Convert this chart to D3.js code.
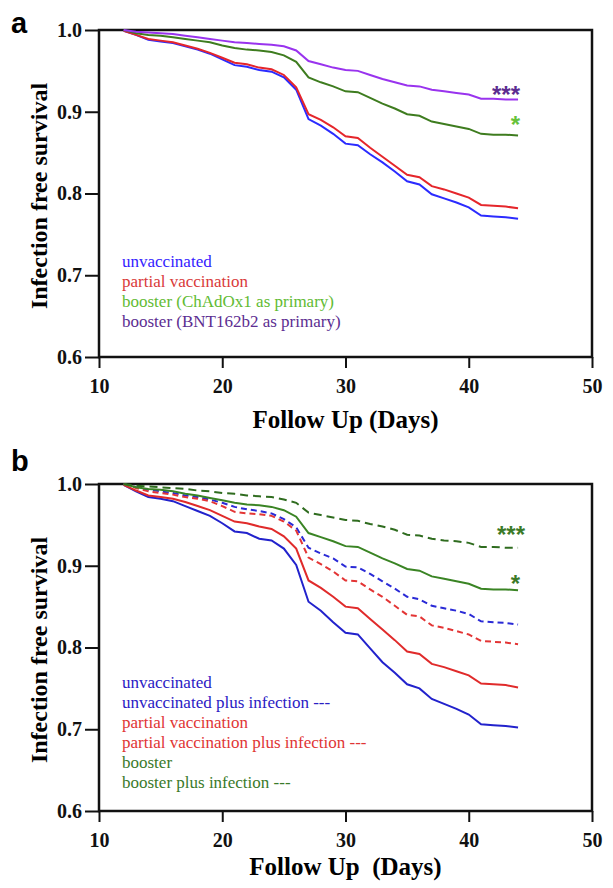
<!DOCTYPE html>
<html>
<head>
<meta charset="utf-8">
<script src="https://cdn.jsdelivr.net/npm/d3@7"></script>
<style>
body { margin: 0; background: #fff; }
svg { display: block; }
</style>
</head>
<body>
<div id="chart"></div>
<script>
// follow up day of every point
const days = [12, 13, 14, 15, 16, 17, 18, 19, 20, 21, 22, 23, 24, 25, 26, 27, 28,
              29, 30, 31, 32, 33, 34, 35, 36, 37, 38, 39, 40, 41, 42, 43, 44];
const xTicks = [10, 20, 30, 40, 50];
const yTicks = [0.6, 0.7, 0.8, 0.9, 1.0];

// panel a
const namesA = ["unvaccinated", "partial vaccination",
                "booster (ChAdOx1 as primary)", "booster (BNT162b2 as primary)"];
const unvaccA = [0.999, 0.994, 0.988, 0.986, 0.984, 0.980, 0.976, 0.971, 0.964, 0.957, 0.955,
                 0.951, 0.949, 0.942, 0.927, 0.891, 0.883, 0.873, 0.861, 0.859, 0.848, 0.838,
                 0.827, 0.815, 0.811, 0.799, 0.794, 0.789, 0.783, 0.773, 0.772, 0.771, 0.769];
const partialA = [0.999, 0.994, 0.989, 0.987, 0.985, 0.981, 0.977, 0.972, 0.966, 0.960, 0.958,
                  0.954, 0.952, 0.945, 0.930, 0.897, 0.890, 0.881, 0.870, 0.868, 0.856, 0.845,
                  0.834, 0.823, 0.820, 0.809, 0.805, 0.800, 0.795, 0.786, 0.785, 0.784, 0.782];
const chadoxA = [1.000, 0.996, 0.994, 0.993, 0.991, 0.989, 0.987, 0.985, 0.981, 0.978, 0.976,
                 0.975, 0.973, 0.969, 0.961, 0.942, 0.936, 0.931, 0.925, 0.924, 0.917, 0.910,
                 0.904, 0.897, 0.895, 0.888, 0.885, 0.882, 0.879, 0.873, 0.872, 0.872, 0.871];
const bntA = [1.000, 0.998, 0.997, 0.996, 0.995, 0.993, 0.991, 0.989, 0.987, 0.985, 0.984,
              0.983, 0.982, 0.980, 0.975, 0.962, 0.958, 0.954, 0.951, 0.950, 0.945, 0.940,
              0.936, 0.932, 0.931, 0.927, 0.925, 0.923, 0.921, 0.916, 0.916, 0.915, 0.915];
const starsA = ["***", "*"];
const starLevelsA = [0.927, 0.890];

// panel b
const namesB = ["unvaccinated", "unvaccinated plus infection ---", "partial vaccination",
                "partial vaccination plus infection ---", "booster", "booster plus infection ---"];
const unvaccB = [0.999, 0.991, 0.984, 0.982, 0.979, 0.973, 0.967, 0.961, 0.952, 0.942, 0.940,
                 0.933, 0.931, 0.921, 0.901, 0.856, 0.845, 0.831, 0.818, 0.816, 0.799, 0.782,
                 0.769, 0.755, 0.750, 0.737, 0.731, 0.725, 0.718, 0.706, 0.705, 0.704, 0.702];
const unvaccInfB = [1.000, 0.996, 0.993, 0.991, 0.989, 0.986, 0.984, 0.981, 0.977, 0.972, 0.969,
                    0.967, 0.964, 0.957, 0.947, 0.922, 0.915, 0.909, 0.899, 0.898, 0.890, 0.881,
                    0.872, 0.862, 0.859, 0.851, 0.848, 0.845, 0.841, 0.832, 0.831, 0.830, 0.828];
const partialB = [0.999, 0.992, 0.986, 0.984, 0.982, 0.978, 0.973, 0.968, 0.961, 0.954, 0.952,
                  0.948, 0.945, 0.936, 0.921, 0.882, 0.873, 0.862, 0.850, 0.848, 0.835, 0.822,
                  0.809, 0.795, 0.792, 0.780, 0.776, 0.771, 0.766, 0.756, 0.755, 0.754, 0.751];
const partialInfB = [1.000, 0.995, 0.991, 0.989, 0.987, 0.984, 0.982, 0.979, 0.973, 0.966, 0.964,
                     0.963, 0.961, 0.954, 0.943, 0.910, 0.902, 0.893, 0.882, 0.881, 0.871, 0.862,
                     0.851, 0.840, 0.838, 0.827, 0.824, 0.820, 0.816, 0.808, 0.807, 0.806, 0.804];
const boosterB = [1.000, 0.996, 0.994, 0.993, 0.991, 0.988, 0.986, 0.983, 0.980, 0.977, 0.975,
                  0.974, 0.972, 0.968, 0.960, 0.940, 0.935, 0.930, 0.924, 0.923, 0.916, 0.909,
                  0.903, 0.896, 0.894, 0.887, 0.884, 0.881, 0.878, 0.872, 0.871, 0.871, 0.870];
const boosterInfB = [1.000, 0.998, 0.997, 0.996, 0.995, 0.994, 0.992, 0.991, 0.989, 0.988, 0.986,
                     0.985, 0.984, 0.981, 0.977, 0.965, 0.962, 0.959, 0.956, 0.955, 0.951, 0.948,
                     0.944, 0.938, 0.937, 0.933, 0.931, 0.930, 0.928, 0.923, 0.923, 0.922, 0.922];
const starsB = ["***", "*"];
const starLevelsB = [0.944, 0.884];

const serif = '"Liberation Serif", "Times New Roman", Times, serif'
const sans = '"Liberation Sans", Arial, Helvetica, sans-serif'

const svg = d3.select("#chart").append("svg")
    .attr("width", 613)
    .attr("height", 888)

svg.append("rect").attr("width", 613).attr("height", 888).attr("fill", "#fff")

function drawPanel(opt) {
    const top = opt.top, bottom = opt.top + 327
    const x = d3.scaleLinear().domain([10, 50]).range([99, 592])
    const y = d3.scaleLinear().domain([0.6, 1.0]).range([bottom, top])

    const g = svg.append("g")

    // panel letter
    g.append("text")
        .attr("x", 11)
        .attr("y", opt.letterY)
        .style("font-family", sans)
        .style("font-weight", "bold")
        .style("font-size", "29px")
        .text(opt.letter)

    // frame
    g.append("rect")
        .attr("x", x(10)).attr("y", top)
        .attr("width", x(50) - x(10)).attr("height", bottom - top)
        .attr("fill", "none")
        .attr("stroke", "#111")
        .attr("stroke-width", 2.5)

    const xAxis = g.append("g")
        .attr("transform", "translate(0," + bottom + ")")
        .call(d3.axisBottom(x).tickValues(xTicks).tickSize(11).tickSizeOuter(0).tickPadding(11))
    const yAxis = g.append("g")
        .attr("transform", "translate(" + x(10) + ",0)")
        .call(d3.axisLeft(y).tickValues(yTicks).tickFormat(d3.format(".1f")).tickSize(14).tickSizeOuter(0).tickPadding(3))

    for (const ax of [xAxis, yAxis]) {
        ax.select(".domain").remove()
        ax.selectAll("line").attr("stroke", "#111").attr("stroke-width", 2)
        ax.selectAll("text")
            .attr("font-family", null)
            .style("font-family", serif)
            .style("font-weight", "bold")
            .style("font-size", "20px")
            .attr("fill", "#111")
    }

    // axis titles
    g.append("text")
        .attr("transform", "translate(47," + (top + 166) + ") rotate(-90)")
        .attr("text-anchor", "middle")
        .style("font-family", serif)
        .style("font-weight", "bold")
        .style("font-size", "24px")
        .text("Infection free survival")

    g.append("text")
        .attr("x", (x(10) + x(50)) / 2)
        .attr("y", bottom + opt.titleGap)
        .attr("text-anchor", "middle")
        .attr("xml:space", "preserve")
        .style("font-family", serif)
        .style("font-weight", "bold")
        .style("font-size", "25px")
        .text(opt.xTitle)

    const line = d3.line()
        .x((d, i) => x(days[i]))
        .y(d => y(d))

    opt.series.forEach(s => {
        g.append("path")
            .datum(s.values)
            .attr("d", line)
            .attr("fill", "none")
            .attr("stroke", s.color)
            .attr("stroke-width", 2)
            .attr("stroke-dasharray", s.dash || null)
    })

    // legend
    opt.legend.forEach((name, i) => {
        g.append("text")
            .attr("x", 122)
            .attr("y", opt.legendY + i * 20)
            .attr("fill", opt.legendColors[i])
            .style("font-family", serif)
            .style("font-size", "17px")
            .text(name)
    })

    // significance stars, centred on their level
    opt.stars.forEach((s, i) => {
        g.append("text")
            .attr("x", x(44) + opt.starShift[i])
            .attr("y", y(opt.starLevels[i]) + 13)
            .attr("text-anchor", "end")
            .attr("fill", opt.starColors[i])
            .style("font-family", sans)
            .style("font-weight", "bold")
            .style("font-size", "24px")
            .text(s)
    })
}

drawPanel({
    letter: "a", letterY: 33, top: 30, titleGap: 71,
    xTitle: "Follow Up (Days)",
    series: [
        {values: unvaccA, color: "#2b2bff"},
        {values: partialA, color: "#e5262b"},
        {values: chadoxA, color: "#3e7c1f"},
        {values: bntA, color: "#9933ee"}
    ],
    legend: namesA, legendY: 267,
    legendColors: ["#3322ff", "#d93a3a", "#62bb33", "#5c2d91"],
    stars: starsA, starLevels: starLevelsA, starShift: [2, 2],
    starColors: ["#5c2d91", "#66c23a"]
})

drawPanel({
    letter: "b", letterY: 471, top: 484, titleGap: 64,
    xTitle: "Follow Up  (Days)",
    series: [
        {values: unvaccB, color: "#2222cc"},
        {values: unvaccInfB, color: "#2a2ad6", dash: "6,4"},
        {values: partialB, color: "#e02b2b"},
        {values: partialInfB, color: "#e33535", dash: "6,4"},
        {values: boosterB, color: "#3a8424"},
        {values: boosterInfB, color: "#2f6c1f", dash: "8,5"}
    ],
    legend: namesB, legendY: 688,
    legendColors: ["#2a20c4", "#2a20c4", "#e03535", "#e03535", "#3a7a2a", "#3a7a2a"],
    stars: starsB, starLevels: starLevelsB, starShift: [7, 2],
    starColors: ["#3b7a28", "#3b7a28"]
})
</script>
</body>
</html>
